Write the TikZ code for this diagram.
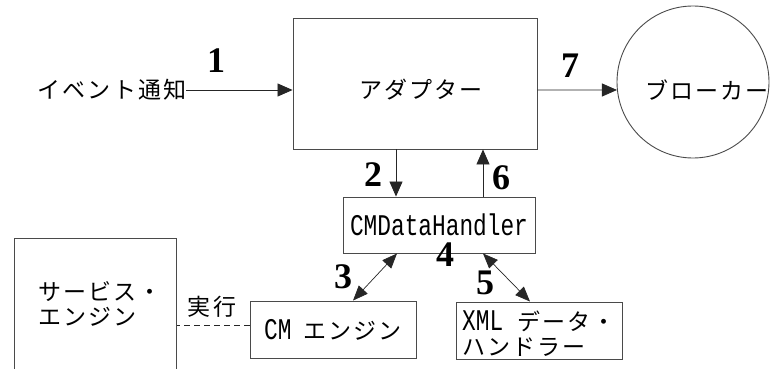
\documentclass[tikz,border=0pt]{standalone}
\usepackage{fontspec}
\usetikzlibrary{arrows.meta}
\newfontfamily\jpfont{Noto Sans CJK JP}[LetterSpace=9]
\newfontfamily\monofont{Liberation Mono}[FakeStretch=0.76]
\newfontfamily\numfont{Liberation Serif Bold}
\newcommand{\lat}[1]{{\monofont\fontsize{30}{30}\selectfont #1}}
\definecolor{linegray}{HTML}{4A4A4A}
\tikzset{
  box/.style={draw=linegray, line width=0.9pt, inner sep=0pt},
  jp/.style={font=\jpfont\fontsize{23}{25}\selectfont, inner sep=0pt},
  num/.style={font=\numfont\fontsize{36}{36}\selectfont, inner sep=0pt},
  arr/.style={-{Triangle[length=15pt,width=13pt]}, line width=0.8pt, draw=black!85},
  darr/.style={{Triangle[length=15pt,width=12pt]}-{Triangle[length=15pt,width=12pt]}, line width=0.7pt, draw=black!85}
}
\begin{document}
\begin{tikzpicture}[x=1pt,y=-1pt]
\clip (0,0) rectangle (771,369);
% boxes
\node[box, minimum width=244, minimum height=131] (adapter) at (415,83.5) {};
\node[jp] (adaptertext) at (421,90) {アダプター};
\node[box, circle, minimum size=152] (broker) at (693,82) {};
\node[jp] (brokertext) at (707,90) {ブローカー};
\node[jp] (evt) at (112,90) {イベント通知};
\node[box, minimum width=192, minimum height=56] (cmdh) at (439,225) {\lat{CMDataHandler}};
\node[box, minimum width=166, minimum height=57] (cme) at (333,329.5) {\lat{CM}\hspace{12pt}{\jpfont\fontsize{23}{25}\selectfont エンジン}};
\node[box, minimum width=166, minimum height=57] (xml) at (539,330.5) {};
\node[jp, anchor=west, align=left] (xmltext) at (462,333.5) {\lat{XML}\hspace{14pt}データ・\\ハンドラー};
\node[box, minimum width=162, minimum height=160, anchor=north west] (svc) at (14,238) {};
\node[jp, anchor=west, align=left] (svctext) at (38,303.5) {サービス・\\エンジン};
% connectors
\draw[arr] (evt.east) -- (evt.east -| adapter.west);
\draw[arr] (adapter.east |- evt.east) -- (broker.186);
\draw[arr] ([xshift=-19pt]adapter.south) -- ([xshift=-19pt]adapter.south |- cmdh.north);
\draw[arr] ([xshift=44pt]cmdh.north) -- ([xshift=44pt]cmdh.north |- adapter.south);
\draw[darr] ([xshift=20pt]cme.north) -- ([xshift=-42pt]cmdh.south);
\draw[darr] ([xshift=44pt]cmdh.south) -- ([xshift=-9pt]xml.north);
\draw[draw=black!85, line width=0.8pt, dash pattern=on 6pt off 4pt] ([yshift=4.5pt]cme.west) -- ([yshift=4.5pt]cme.west -| svc.east);
% labels
\node[num] (n1) at (216,61) {1};
\node[num] (n2) at (373,175) {2};
\node[num] (n3) at (343,277) {3};
\node[num] (n4) at (445,255) {4};
\node[num] (n5) at (485,283) {5};
\node[num] (n6) at (501,178) {6};
\node[num] (n7) at (570,66) {7};
\node[jp] (exec) at (212,307) {実行};
\end{tikzpicture}
\end{document}
